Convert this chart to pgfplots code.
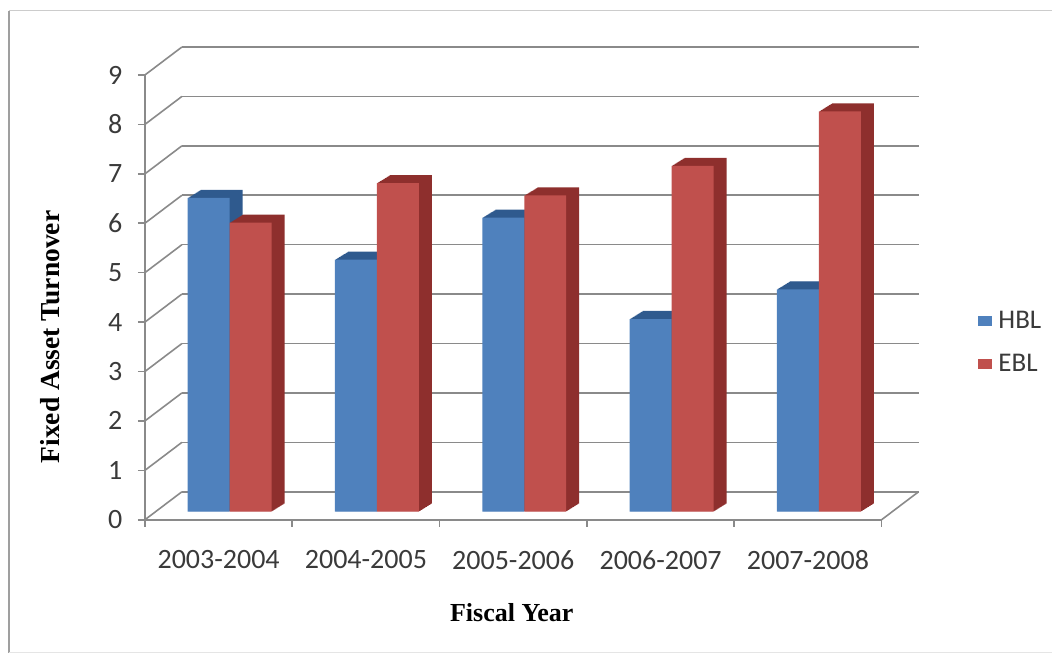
\documentclass[border=0pt]{standalone}
\usepackage{pgfplots}
\pgfplotsset{compat=1.18}
\usepackage{pgfplotstable}
\usepackage{fontspec}
\setmainfont{Carlito}
\newfontfamily\titlefont{Liberation Serif}
\definecolor{hblfront}{HTML}{4F81BD}
\definecolor{hbldark}{HTML}{2F5A8E}
\definecolor{eblfront}{HTML}{C0504D}
\definecolor{ebldark}{HTML}{8E2F2D}
\definecolor{gridgray}{HTML}{8A8A8A}
\definecolor{txt}{HTML}{3A3A3A}

\pgfplotstableread{
x hbl ebl
0 6.35 5.85
1 5.10 6.65
2 5.95 6.40
3 3.90 7.00
4 4.50 8.10
}\datatable

\pgfplotsset{
  sqlegend/.style={legend image code/.code={\fill[##1] (0pt,-5pt) rectangle (15pt,5pt);}},
}

\begin{document}
\begin{tikzpicture}
\path (0pt,0pt) rectangle (1052pt,660pt);
% outer frame
\draw[color=gray!75, line width=1.6pt] (9pt,7pt) -- (9pt,649pt);
\draw[color=gray!40, line width=1pt] (9pt,649pt) -- (1052pt,649pt);
\draw[color=gray!20, line width=0.8pt] (9pt,7pt) -- (1052pt,7pt);

% back wall
\begin{axis}[at={(182pt,168pt)}, anchor=south west, scale only axis,
  width=737pt, height=445pt, xmin=-0.5, xmax=4.5, ymin=0, ymax=9,
  axis line style={draw=none}, xtick=\empty, ytick={0,...,9}, yticklabels={},
  major tick length=0pt, ymajorgrids,
  major grid style={gridgray, line width=1.6pt}]
\end{axis}

% side wall and floor edges
\foreach \i in {0,...,9}
  \draw[gridgray, line width=1.6pt] (145pt,{140pt+49.44pt*\i}) -- (182pt,{168pt+49.44pt*\i});
\draw[gridgray, line width=1.6pt] (882pt,140pt) -- (919pt,168pt);

% bars
\begin{axis}[at={(156pt,148pt)}, anchor=south west, scale only axis,
  width=737pt, height=445pt, xmin=-0.5, xmax=4.5, ymin=0, ymax=9,
  hide axis, ybar, bar width=42pt, clip=false,
  legend style={at={(1.115,0.381)}, anchor=west, draw=none, fill=none,
    font=\fontsize{27}{32}\selectfont\color{txt}, row sep=20pt,
    inner sep=0pt, cells={anchor=west},
    nodes={inner xsep=6pt}},
  ]
\pgfplotsinvokeforeach{13,12,...,1}{
  \addplot[forget plot, draw=none, fill=hbldark, bar shift=-21pt,
    xshift=#1pt, yshift=#1*0.62pt] table[x=x,y=hbl]{\datatable};
}
\addplot[draw=none, fill=hblfront, bar shift=-21pt, sqlegend] table[x=x,y=hbl]{\datatable};
\addlegendentry{HBL}
\pgfplotsinvokeforeach{13,12,...,1}{
  \addplot[forget plot, draw=none, fill=ebldark, bar shift=21pt,
    xshift=#1pt, yshift=#1*0.62pt] table[x=x,y=ebl]{\datatable};
}
\addplot[draw=none, fill=eblfront, bar shift=21pt, sqlegend] table[x=x,y=ebl]{\datatable};
\addlegendentry{EBL}
\end{axis}

% front axis
\begin{axis}[at={(145pt,140pt)}, anchor=south west, scale only axis,
  width=737pt, height=445pt, xmin=-0.5, xmax=4.5, ymin=0, ymax=9,
  axis x line*=bottom, axis y line*=left,
  axis line style={gridgray, line width=1.6pt, -},
  tick style={gridgray, line width=1.6pt},
  tick align=outside, major tick length=7pt,
  xtick={-0.5,0.5,1.5,2.5,3.5,4.5}, xticklabels={},
  extra x ticks={0,1,2,3,4},
  extra x tick labels={2003-2004,2004-2005,2005-2006,2006-2007,2007-2008},
  extra x tick style={major tick length=0pt,
    xticklabel style={yshift=-27pt}},
  ytick={0,...,9},
  yticklabel style={xshift=-12pt},
  /pgf/number format/assume math mode=true,
  ticklabel style={font=\fontsize{28}{33}\selectfont, text=txt},
  xlabel={Fiscal Year}, ylabel={Fixed Asset Turnover},
  xlabel style={at={(axis description cs:0.498,-0.209)}, anchor=center,
    font=\titlefont\bfseries\fontsize{26}{31}\selectfont},
  ylabel style={at={(axis description cs:-0.129,0.411)}, anchor=center, rotate=0,
    font=\titlefont\bfseries\fontsize{27.5}{32}\selectfont},
  ]
\end{axis}
\end{tikzpicture}
\end{document}
